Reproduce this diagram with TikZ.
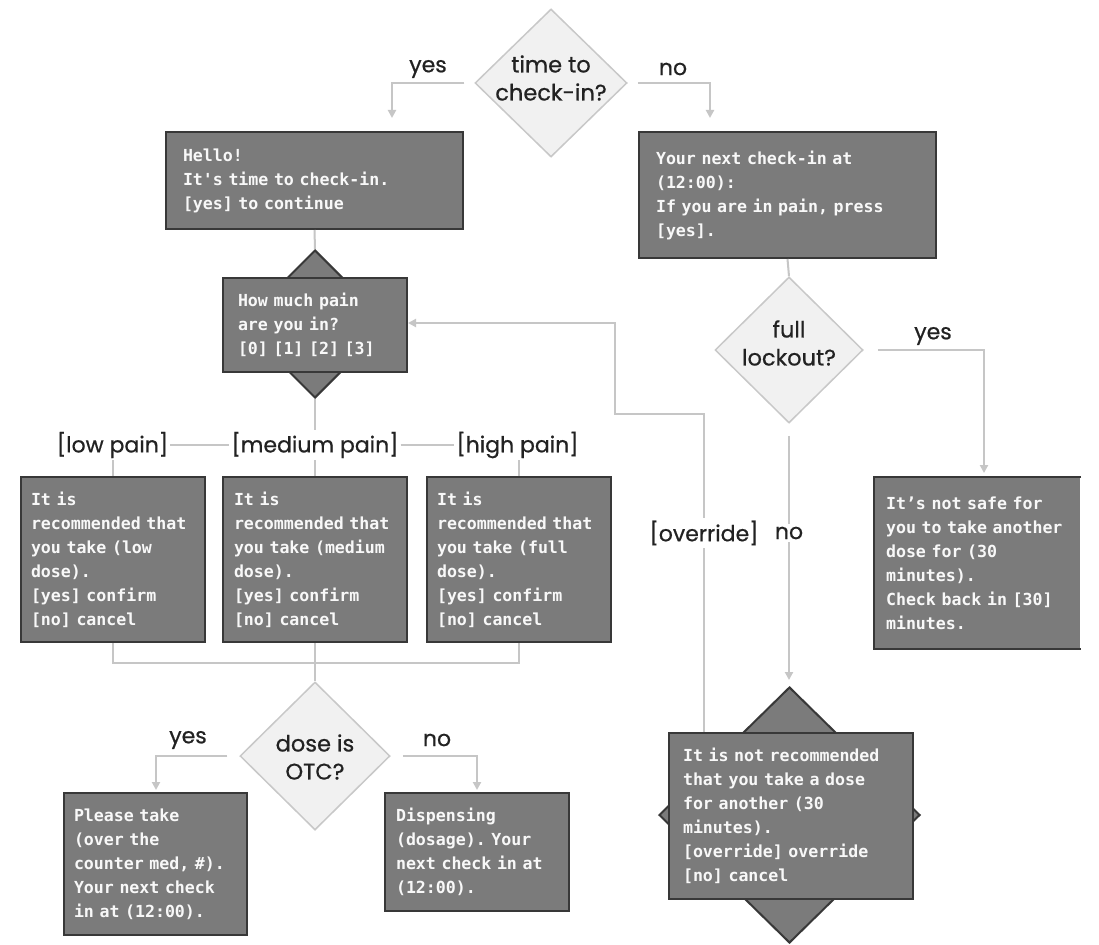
\documentclass[tikz,border=0pt]{standalone}
\usepackage{fontspec}
\setsansfont{Poppins}
\setmonofont{DejaVu Sans Mono}
\newfontfamily\labfont{Poppins}[FakeBold=0.6]
\usetikzlibrary{shapes.geometric,arrows.meta,calc}
\definecolor{boxfill}{HTML}{7B7B7B}
\definecolor{boxline}{HTML}{383838}
\definecolor{connc}{HTML}{C6C6C6}
\definecolor{decfill}{HTML}{F1F1F1}
\definecolor{decline}{HTML}{C8C8C8}
\definecolor{txtlight}{HTML}{F8F8F8}
\definecolor{lbl}{HTML}{222222}
\tikzset{
  box/.style={rectangle, fill=boxfill, draw=boxline, line width=2pt, text=txtlight,
    font=\ttfamily\bfseries\fontsize{16.6}{24}\selectfont, align=left, inner ysep=0pt},
  darkdia/.style={diamond, aspect=1, fill=boxfill, draw=boxline, line width=2pt, inner sep=0pt},
  decision/.style={diamond, aspect=1, fill=decfill, draw=decline, line width=1.5pt, inner sep=0pt},
  dtext/.style={text=lbl, font=\labfont\fontsize{22.5}{28}\selectfont, align=center, inner sep=0pt},
  lab/.style={text=lbl, font=\labfont\fontsize{22}{28}\selectfont, inner sep=2pt},
  onlinelab/.style={lab, fill=white, inner sep=3pt},
  conn/.style={draw=connc, line width=2pt},
  arrowc/.style={conn, -{Triangle[length=8pt,width=8pt]}},
}
\begin{document}
\begin{tikzpicture}[x=1pt,y=-1pt]
\fill[white] (0,0) rectangle (1099,944);
\useasboundingbox (0,0) rectangle (1099,944);

% decisions
\node[decision, minimum width=152, minimum height=148] (d1) at (551,83) {};
\node[dtext] (d1t) at ([yshift=5pt]d1.center) {time to\\check-in?};
\node[decision, minimum width=148, minimum height=146] (d2) at (789,350) {};
\node[dtext] (d2t) at ([yshift=7pt]d2.center) {full\\lockout?};
\node[decision, minimum width=150, minimum height=148] (d3) at (315,756) {};
\node[dtext] (d3t) at ([yshift=-1pt]d3.center) {dose is\\OTC?};

% boxes
\node[box, minimum height=97, inner xsep=17pt, text width=263pt] (hello) at (314.5,180.5)
  {Hello!\\It's~time~to~check-in.\\{}[yes]~to~continue};
\node[box, minimum height=126, inner xsep=17pt, text width=263pt] (nextci) at (787.5,195)
  {Your~next~check-in~at\\(12:00):\\If~you~are~in~pain,~press\\{}[yes].};

\node[darkdia, minimum width=148, minimum height=148] (pd) at (315,324) {};
\node[box, minimum height=94, inner xsep=15pt, text width=154pt] (p) at (315,325)
  {How~much~pain\\are~you~in?\\{}[0]~[1]~[2]~[3]};

\node[box, minimum height=165, inner xsep=10pt, text width=164pt] (low) at (113,559.5)
  {It~is\\recommended~that\\you~take~(low\\dose).\\{}[yes]~confirm\\{}[no]~cancel};
\node[box, minimum height=165, inner xsep=11pt, text width=162pt] (med) at (315,559.5)
  {It~is\\recommended~that\\you~take~(medium\\dose).\\{}[yes]~confirm\\{}[no]~cancel};
\node[box, minimum height=165, inner xsep=10pt, text width=164pt] (high) at (519,559.5)
  {It~is\\recommended~that\\you~take~(full\\dose).\\{}[yes]~confirm\\{}[no]~cancel};

\node[box, minimum height=142, inner xsep=10pt, text width=163pt] (please) at (155.5,864)
  {Please~take\\(over~the\\counter~med,~\#).\\Your~next~check\\in~at~(12:00).};
\node[box, minimum height=118, inner xsep=11pt, text width=162pt] (disp) at (477,852)
  {Dispensing\\(dosage).~Your\\next~check~in~at\\(12:00).};

\node[darkdia, minimum width=261, minimum height=256] (brd) at (789.5,815) {};
\node[box, minimum height=166, inner xsep=14pt, text width=216pt] (br) at (791,816)
  {It~is~not~recommended\\that~you~take~a~dose\\for~another~(30\\minutes).\\{}[override]~override\\{}[no]~cancel};

\node[box, draw=none, minimum height=170, minimum width=205, inner sep=0pt] (ns) at (977.5,563) {};
\draw[draw=boxline, line width=2pt] (ns.north east) -- (ns.north west) -- (ns.south west) -- (ns.south east);
\node[box, fill=none, draw=none, inner sep=0pt, text width=194pt, anchor=west] (nst) at ([xshift=11pt]ns.west)
  {It’s~not~safe~for\\you~to~take~another\\dose~for~(30\\minutes).\\Check~back~in~[30]\\minutes.};

% pain labels
\node[lab] (mp) at (315,445) {[medium pain]};
\node[lab] (lp) at (112.5,445) {[low pain]};
\node[lab] (hp) at (517.5,445) {[high pain]};

% arrow end coordinates
\coordinate (y1) at (392,118);
\coordinate (n1) at (710,118);
\coordinate (y2) at (984,473);
\coordinate (n2) at (789,680);
\coordinate (y3) at (156,790);
\coordinate (n3) at (477,790);
\coordinate (m1) at (113,663);
\coordinate (o1) at (704,414);
\coordinate (o2) at (615,414);
\coordinate (o3) at (615,323);

% connectors
\draw[arrowc] ([xshift=-10pt]d1.west) -| (y1);
\draw[arrowc] ([xshift=10pt]d1.east) -| (n1);
\draw[conn] (hello.south) -- (pd.north);
\draw[conn] (nextci.south) -- (d2.north);
\draw[arrowc] ([xshift=14pt]d2.east) -| (y2);
\draw[arrowc] ([yshift=-12pt]d2.south) -- (n2);
\draw[arrowc] (br.north -| o1) -- (o1) -- (o2) -- (o3) -- (o3 -| p.east);
\draw[conn] (pd.south) -- (mp.north);
\draw[conn] (lp.east) -- (mp.west);
\draw[conn] (mp.east) -- (hp.west);
\draw[conn] (lp.south -| low.north) -- (low.north);
\draw[conn] (mp.south) -- (med.north);
\draw[conn] (hp.south -| high.north) -- (high.north);
\draw[conn] (low.south) -- (low.south |- m1) -- (high.south |- m1) -- (high.south);
\draw[conn] (med.south) -- (d3.north);
\draw[arrowc] ([xshift=-12pt]d3.west) -| (y3);
\draw[arrowc] ([xshift=12pt]d3.east) -| (n3);

% branch labels
\node[lab] (l1) at (428,69) {yes};
\node[lab] (l2) at (673,69) {no};
\node[lab] (l3) at (933,336) {yes};
\node[lab] (l4) at (188,740) {yes};
\node[lab] (l5) at (437,740) {no};
\node[onlinelab] (l6) at (789,533) {no};
\node[onlinelab] (l7) at (704,533) {[override]};
\end{tikzpicture}
\end{document}
